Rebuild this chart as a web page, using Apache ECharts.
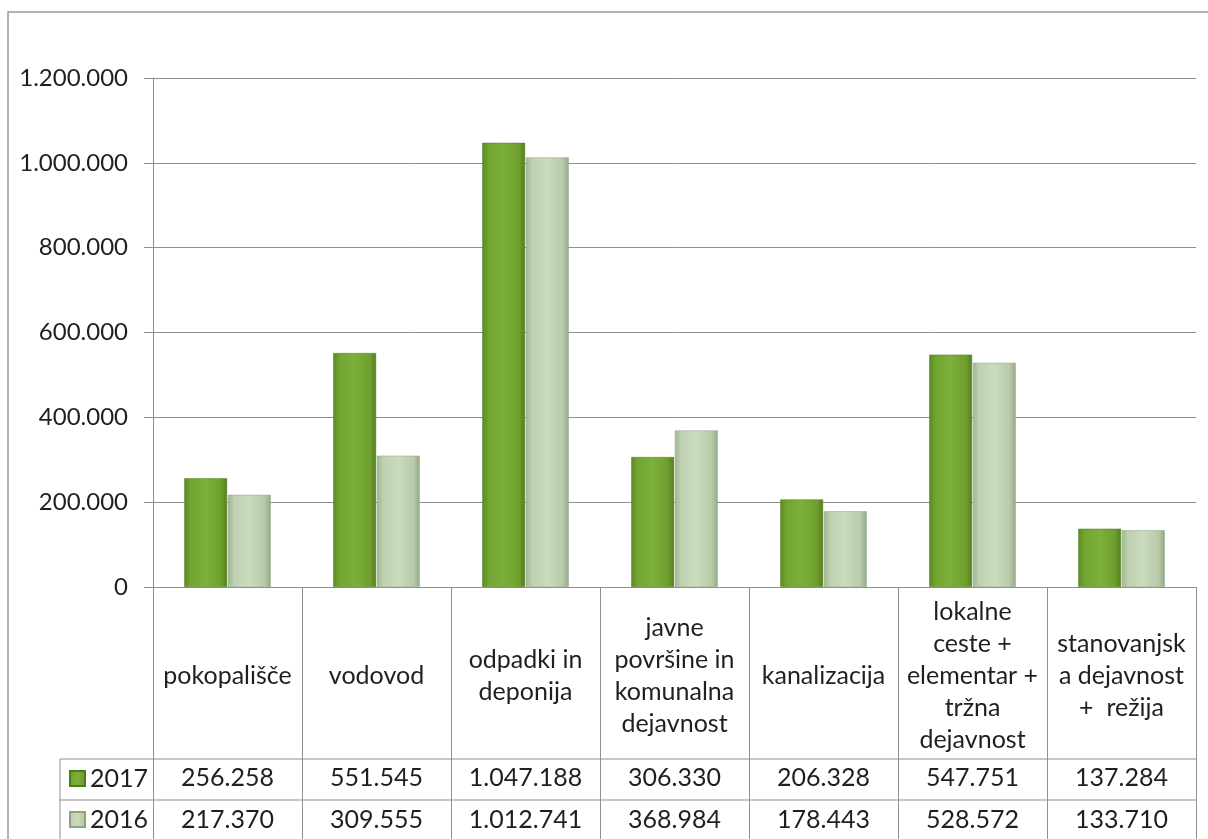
<!DOCTYPE html>
<html>
<head>
<meta charset="utf-8">
<script src="https://cdn.jsdelivr.net/npm/echarts@6/dist/echarts.min.js"></script>
<style>
html,body{margin:0;padding:0;background:#fff;}
#chart{width:1208px;height:839px;}
</style>
</head>
<body>
<div id="chart"></div>
<script>
const categories = [
  'pokopališče',
  'vodovod',
  'odpadki in\ndeponija',
  'javne\npovršine in\nkomunalna\ndejavnost',
  'kanalizacija',
  'lokalne\nceste +\nelementar +\ntržna\ndejavnost',
  'stanovanjsk\na dejavnost\n+  režija'
];
const seriesNames = ['2017', '2016'];
const values2017 = [256258, 551545, 1047188, 306330, 206328, 547751, 137284];
const values2016 = [217370, 309555, 1012741, 368984, 178443, 528572, 133710];
const yTicks = [0, 200000, 400000, 600000, 800000, 1000000, 1200000];

function fmt(v){ return String(v).replace(/\B(?=(\d{3})+(?!\d))/g, '.'); }

const FONT = 'Lato';
const FS = 25;
const TXT = '#1f1f1f';
const LINE = '#8f8f8f';

const green = {type:'linear',x:0,y:0,x2:1,y2:0,colorStops:[
  {offset:0,color:'#5a8b22'},{offset:0.15,color:'#72a531'},{offset:0.5,color:'#7cb03a'},{offset:0.85,color:'#6f9f2e'},{offset:1,color:'#557f1f'}]};
const light = {type:'linear',x:0,y:0,x2:1,y2:0,colorStops:[
  {offset:0,color:'#9fb592'},{offset:0.15,color:'#bfd1b1'},{offset:0.5,color:'#cbdbbf'},{offset:0.85,color:'#b8cbaa'},{offset:1,color:'#94aa87'}]};

const chart = echarts.init(document.getElementById('chart'));
const catAxisBase = {
  type:'category', gridIndex:0, data:categories, position:'bottom',
  axisLine:{show:false}, axisTick:{show:false}, splitLine:{show:false}
};
const legendBase = {
  orient:'horizontal', left:64,
  itemWidth:15, itemHeight:15, itemGap:10,
  icon:'rect',
  textStyle:{fontFamily:FONT, fontSize:FS, color:TXT},
  selectedMode:false
};
chart.setOption({
  animation:false,
  backgroundColor:'#fff',
  textStyle:{fontFamily:FONT},
  legend:[
    Object.assign({}, legendBase, {top:761, data:[seriesNames[0]]}),
    Object.assign({}, legendBase, {top:802, data:[seriesNames[1]]})
  ],
  grid:{left:153, right:12, top:78, bottom:252, containLabel:false},
  xAxis:[
    {
      type:'category', gridIndex:0, data:categories, position:'bottom',
      axisLine:{show:true, lineStyle:{color:LINE, width:1}},
      axisTick:{show:true, interval:0, length:260, lineStyle:{color:LINE, width:1}},
      axisLabel:{interval:0, margin:89, verticalAlign:'middle', align:'center',
        fontFamily:FONT, fontSize:FS, lineHeight:32, color:TXT},
      splitLine:{show:false}
    },
    Object.assign({}, catAxisBase, {
      axisLabel:{interval:0, margin:191, verticalAlign:'middle', fontFamily:FONT, fontSize:FS, color:TXT,
        formatter:(v,i)=>fmt(values2017[i])}
    }),
    Object.assign({}, catAxisBase, {
      axisLabel:{interval:0, margin:233, verticalAlign:'middle', fontFamily:FONT, fontSize:FS, color:TXT,
        formatter:(v,i)=>fmt(values2016[i])}
    })
  ],
  yAxis:{
    type:'value', min:yTicks[0], max:yTicks[yTicks.length-1], interval:yTicks[1]-yTicks[0],
    axisLine:{show:true, lineStyle:{color:LINE, width:1}},
    axisTick:{show:true, length:9, lineStyle:{color:LINE}},
    axisLabel:{margin:25, fontFamily:FONT, fontSize:24, color:TXT, formatter:v=>fmt(v)},
    splitLine:{show:true, lineStyle:{color:LINE, width:1}}
  },
  series:[
    {name:seriesNames[0], type:'bar', xAxisIndex:0, data:values2017, barGap:'2%', barCategoryGap:'42%',
      itemStyle:{color:green, borderColor:'#4f7a1c', borderWidth:0.5}},
    {name:seriesNames[1], type:'bar', xAxisIndex:0, data:values2016, barGap:'2%', barCategoryGap:'42%',
      itemStyle:{color:light, borderColor:'#8ea381', borderWidth:0.5}}
  ],
  graphic:[
    {type:'rect', shape:{x:8, y:12, width:1260, height:900}, style:{fill:'none', stroke:'#9a9a9a', lineWidth:1.5}, silent:true},
    {type:'line', shape:{x1:60, y1:759, x2:1196, y2:759}, style:{stroke:LINE, lineWidth:1}, silent:true},
    {type:'line', shape:{x1:60, y1:800, x2:1196, y2:800}, style:{stroke:LINE, lineWidth:1}, silent:true},
    {type:'line', shape:{x1:60, y1:759, x2:60, y2:900}, style:{stroke:LINE, lineWidth:1}, silent:true}
  ]
});
</script>
</body>
</html>
